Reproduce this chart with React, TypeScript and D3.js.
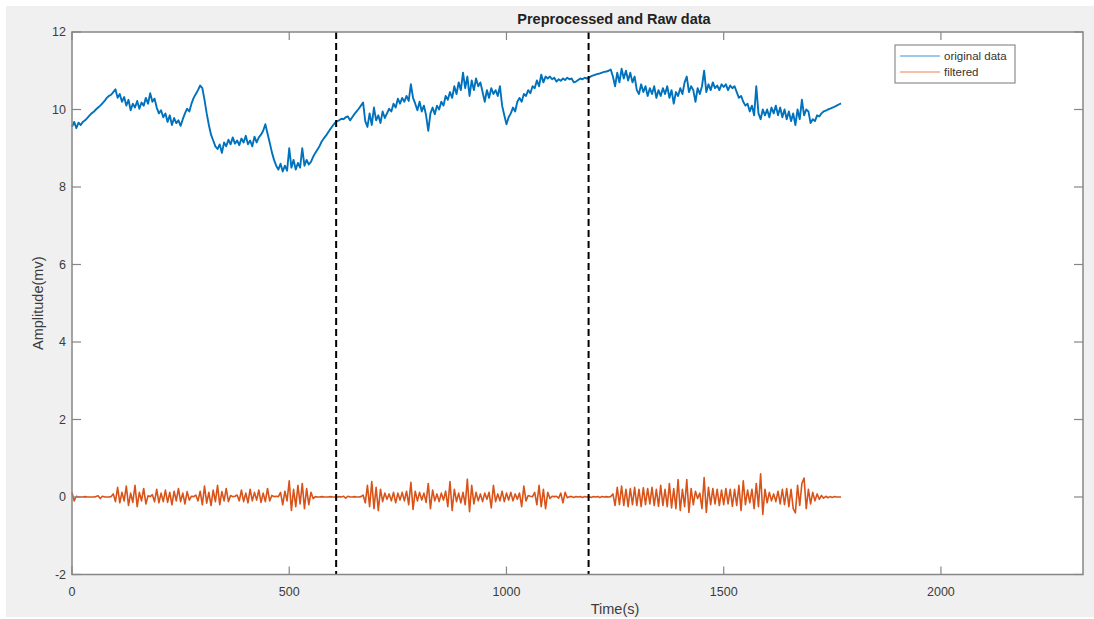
import React from 'react';
import * as d3 from 'd3';

// sampling step of both series, seconds
const step = 5;

// original data (mV), one value every 5 s, 0 .. 1770 s
const original = [
  9.55, 9.68, 9.52, 9.66, 9.6, 9.68, 9.72, 9.78, 9.84, 9.9, 9.94, 10.0, 10.05, 10.1, 10.16, 10.22, 10.3, 10.35, 10.38, 10.45,
  10.52, 10.3, 10.4, 10.2, 10.32, 10.1, 10.25, 9.98, 10.15, 10.05, 10.22, 10.02, 10.18, 10.1, 10.3, 10.15, 10.42, 10.2, 10.28, 10.05,
  9.9, 9.98, 9.8, 9.9, 9.68, 9.85, 9.6, 9.78, 9.65, 9.72, 9.58, 9.75, 9.9, 10.02, 9.95, 10.15, 10.3, 10.4, 10.5, 10.62,
  10.55, 10.25, 9.9, 9.6, 9.35, 9.2, 9.05, 8.98, 9.1, 8.88, 9.15, 9.05, 9.22, 9.1, 9.28, 9.12, 9.2, 9.08, 9.25, 9.15,
  9.32, 9.1, 9.2, 9.05, 9.3, 9.15, 9.28, 9.35, 9.45, 9.62, 9.38, 9.15, 8.9, 8.7, 8.55, 8.45, 8.6, 8.4, 8.55, 8.42,
  9.0, 8.5, 8.7, 8.45, 8.62, 8.5, 9.0, 8.55, 8.7, 8.58, 8.65, 8.78, 8.88, 8.97, 9.06, 9.18, 9.26, 9.33, 9.42, 9.5,
  9.58, 9.65, 9.7, 9.72, 9.76, 9.75, 9.8, 9.82, 9.72, 9.8, 9.88, 9.95, 10.02, 10.1, 10.18, 9.7, 9.55, 9.9, 9.6, 10.05,
  9.72, 9.85, 9.65, 9.95, 9.78, 9.9, 10.02, 9.95, 10.15, 10.05, 10.28, 10.15, 10.3, 10.2, 10.35, 10.22, 10.65, 10.3, 10.15, 9.98,
  10.2, 9.95, 10.1, 9.85, 9.45, 9.9, 10.05, 9.88, 10.1, 10.0, 10.2, 10.1, 10.35, 10.25, 10.45, 10.3, 10.6, 10.4, 10.7, 10.5,
  10.95, 10.55, 10.85, 10.35, 10.75, 10.5, 10.8, 10.6, 10.7, 10.45, 10.2, 10.5, 10.3, 10.55, 10.4, 10.5, 10.35, 10.6, 10.1, 9.85,
  9.62, 9.8, 9.9, 10.05, 9.95, 10.2, 10.3, 10.2, 10.4, 10.35, 10.5, 10.42, 10.6, 10.55, 10.75, 10.6, 10.9, 10.7, 10.85, 10.8,
  10.85, 10.78, 10.82, 10.72, 10.78, 10.74, 10.8, 10.76, 10.82, 10.78, 10.8, 10.7, 10.72, 10.76, 10.8, 10.78, 10.82, 10.8, 10.82, 10.86,
  10.88, 10.9, 10.92, 10.93, 10.95, 10.97, 10.98, 11.0, 11.03, 10.85, 10.6, 10.95, 10.7, 11.05, 10.8, 11.0, 10.75, 10.95, 10.7, 10.85,
  10.5, 10.4, 10.65, 10.45, 10.6, 10.35, 10.55, 10.4, 10.6, 10.3, 10.5, 10.35, 10.55, 10.4, 10.6, 10.3, 10.5, 10.15, 10.45, 10.35,
  10.55, 10.4, 10.7, 10.85, 10.45, 10.6, 10.5, 10.2, 10.55, 10.4, 10.6, 11.0, 10.45, 10.65, 10.5, 10.7, 10.55, 10.62, 10.5, 10.65,
  10.58, 10.65, 10.5, 10.62, 10.55, 10.6, 10.45, 10.3, 10.35, 10.2, 10.1, 10.15, 9.95, 10.1, 9.85, 10.6, 9.9, 9.75, 10.0, 9.85,
  10.0, 9.8, 10.05, 9.9, 10.1, 9.85, 10.05, 9.8, 10.0, 9.75, 9.95, 9.7, 9.9, 9.6, 10.0, 9.75, 10.25, 9.85, 10.0, 9.95,
  9.65, 9.75, 9.7, 9.85, 9.82, 9.9, 9.95, 9.97, 10.0, 10.02, 10.05, 10.07, 10.1, 10.13, 10.16,
];

// filtered data (mV), one value every 5 s, 0 .. 1770 s
const filtered = [
  0.12, -0.1, 0.02, 0, 0, 0, 0.01, 0, 0, 0, 0, 0.01, 0.03, -0.04, 0.02, 0, 0, 0, 0.01, 0.08,
  -0.12, 0.25, -0.15, 0.12, -0.1, 0.28, -0.22, 0.1, -0.14, 0.3, -0.25, 0.12, -0.1, 0.22, -0.18, 0.03, 0.01, 0.06, -0.12, 0.2,
  -0.15, 0.1, -0.12, 0.18, -0.14, 0.12, -0.2, 0.15, -0.1, 0.22, -0.12, 0.1, -0.18, 0.14, -0.08, 0.02, 0.01, 0.05, -0.1, 0.15,
  -0.2, 0.28, -0.16, 0.12, -0.22, 0.18, -0.12, 0.3, -0.2, 0.14, -0.1, 0.22, -0.12, 0.04, 0.01, 0.02, 0.05, -0.1, 0.18, -0.12,
  0.1, -0.15, 0.2, -0.1, 0.12, -0.08, 0.18, -0.14, 0.1, -0.12, 0.22, -0.1, 0.04, 0.01, 0.02, 0.01, 0.12, -0.2, 0.15, -0.1,
  0.42, -0.35, 0.2, -0.25, 0.3, -0.18, 0.35, -0.3, 0.22, -0.2, 0.12, -0.04, 0.01, 0, 0, 0.01, 0, 0, 0, 0.01,
  0, 0, 0, 0.01, 0, 0.02, -0.03, 0.02, 0, 0, 0.01, 0, 0, 0.01, 0.05, -0.15, 0.3, -0.25, 0.4, -0.3,
  0.25, -0.35, 0.2, -0.12, 0.1, -0.06, 0.08, -0.1, 0.12, -0.15, 0.1, -0.08, 0.12, -0.1, 0.15, -0.2, 0.38, -0.32, 0.15, -0.1,
  0.12, -0.08, 0.1, -0.14, 0.35, -0.3, 0.18, -0.1, 0.08, -0.12, 0.1, -0.08, 0.15, -0.25, 0.4, -0.35, 0.2, -0.12, 0.1, -0.15,
  0.12, -0.2, 0.46, -0.38, 0.3, -0.18, 0.12, -0.1, 0.08, -0.12, 0.1, -0.06, 0.12, -0.28, 0.3, -0.12, 0.08, -0.1, 0.15, -0.12,
  0.1, -0.08, 0.12, -0.1, 0.08, -0.06, 0.1, -0.25, 0.28, -0.1, 0.04, 0.02, 0.01, 0.12, -0.2, 0.3, -0.25, 0.2, -0.3, 0.12,
  -0.04, 0.02, 0.01, 0.02, -0.03, 0.1, -0.15, 0.12, -0.02, 0.01, 0.01, -0.01, 0.01, 0, 0.01, -0.01, 0.01, 0, 0.01, -0.01,
  0.01, 0, 0.01, -0.01, 0.01, 0, 0.01, 0, 0.01, 0.08, -0.22, 0.25, -0.2, 0.28, -0.22, 0.2, -0.25, 0.22, -0.2, 0.25,
  -0.22, 0.2, -0.25, 0.24, -0.2, 0.22, -0.18, 0.25, -0.22, 0.2, -0.24, 0.3, -0.22, 0.2, -0.25, 0.35, -0.28, 0.22, -0.3, 0.45,
  -0.35, 0.2, -0.25, 0.45, -0.4, 0.22, -0.2, 0.15, -0.04, 0.1, -0.3, 0.5, -0.4, 0.25, -0.2, 0.22, -0.18, 0.2, -0.22, 0.18,
  -0.2, 0.22, -0.18, 0.2, -0.24, 0.2, -0.22, 0.3, -0.35, 0.42, -0.2, 0.18, -0.15, 0.2, -0.3, 0.35, -0.25, 0.6, -0.45, 0.2,
  -0.15, 0.12, -0.1, 0.08, -0.12, 0.15, -0.18, 0.2, -0.2, 0.22, -0.25, 0.2, -0.3, -0.41, 0.3, -0.22, 0.35, 0.49, -0.3, 0.2,
  -0.18, 0.12, -0.1, 0.08, -0.06, 0.04, -0.03, 0.02, -0.02, 0.01, -0.01, 0.01, 0, 0, 0,
];

// event markers (s)
const markers = [608, 1189];

const xTicks = [0, 500, 1000, 1500, 2000];
const yTicks = [-2, 0, 2, 4, 6, 8, 10, 12];

const W = 1094;
const H = 619;
const font = '"Liberation Sans", Arial, sans-serif';
const axisColor = '#868686';
const textColor = '#3c3c3c';

export default function App() {
  const x = d3.scaleLinear().domain([0, 2327]).range([72, 1083]);
  const y = d3.scaleLinear().domain([-2, 12]).range([574.5, 32]);
  const [x0, x1] = x.range();
  const [y0, y1] = y.range();

  const line = d3
    .line<number>()
    .x((_, i) => x(i * step))
    .y((d) => y(d));

  return (
    <svg
      width={W}
      height={H}
      style={{ position: 'absolute', left: 0, top: 0 }}
      fontFamily={font}
    >
      <rect x={0} y={0} width={W} height={H} fill="#ffffff" />
      <rect x={6} y={6} width={W - 6} height={611} fill="#f0f0f0" />
      <rect x={x0} y={y1} width={x1 - x0} height={y0 - y1} fill="#ffffff" />

      <path d={line(original) ?? ''} fill="none" stroke="#0072bd" strokeWidth={1.9} strokeLinejoin="round" />
      <path d={line(filtered) ?? ''} fill="none" stroke="#d95319" strokeWidth={1.6} strokeLinejoin="round" />

      {markers.map((m) => (
        <line key={m} x1={x(m)} x2={x(m)} y1={y1} y2={y0} stroke="#000" strokeWidth={2} strokeDasharray="7,4" />
      ))}

      {/* box */}
      <rect x={x0} y={y1} width={x1 - x0} height={y0 - y1} fill="none" stroke={axisColor} strokeWidth={1.5} />

      {xTicks.map((t) => (
        <g key={t}>
          <line x1={x(t)} x2={x(t)} y1={y0} y2={y0 - 8} stroke={axisColor} strokeWidth={1.2} />
          <line x1={x(t)} x2={x(t)} y1={y1} y2={y1 + 8} stroke={axisColor} strokeWidth={1.2} />
          <text x={x(t)} y={y0 + 21} textAnchor="middle" fontSize={12.5} fill={textColor}>
            {t}
          </text>
        </g>
      ))}
      {yTicks.map((t) => (
        <g key={t}>
          <line x1={x0} x2={x0 + 9} y1={y(t)} y2={y(t)} stroke={axisColor} strokeWidth={1.2} />
          <line x1={x1} x2={x1 - 9} y1={y(t)} y2={y(t)} stroke={axisColor} strokeWidth={1.2} />
          <text x={x0 - 6} y={y(t)} dy="0.35em" textAnchor="end" fontSize={12.5} fill={textColor}>
            {t}
          </text>
        </g>
      ))}

      <text x={614} y={24} textAnchor="middle" fontSize={14.5} fontWeight="bold" fill="#222">
        Preprocessed and Raw data
      </text>
      <text x={615} y={614} textAnchor="middle" fontSize={14.5} fill={textColor}>
        Time(s)
      </text>
      <text
        transform={`translate(43, ${(y0 + y1) / 2}) rotate(-90)`}
        textAnchor="middle"
        fontSize={14.5}
        fill={textColor}
      >
        Amplitude(mv)
      </text>

      {/* legend */}
      <g>
        <rect x={895} y={45} width={120} height={38} fill="#fff" stroke="#777" strokeWidth={1} />
        <line x1={900} x2={940} y1={56} y2={56} stroke="#7db7e3" strokeWidth={1.5} />
        <line x1={900} x2={940} y1={72} y2={72} stroke="#f2ab8c" strokeWidth={1.5} />
        <text x={944} y={56} dy="0.35em" fontSize={11.5} fill="#333">
          original data
        </text>
        <text x={944} y={72} dy="0.35em" fontSize={11.5} fill="#333">
          filtered
        </text>
      </g>
    </svg>
  );
}
